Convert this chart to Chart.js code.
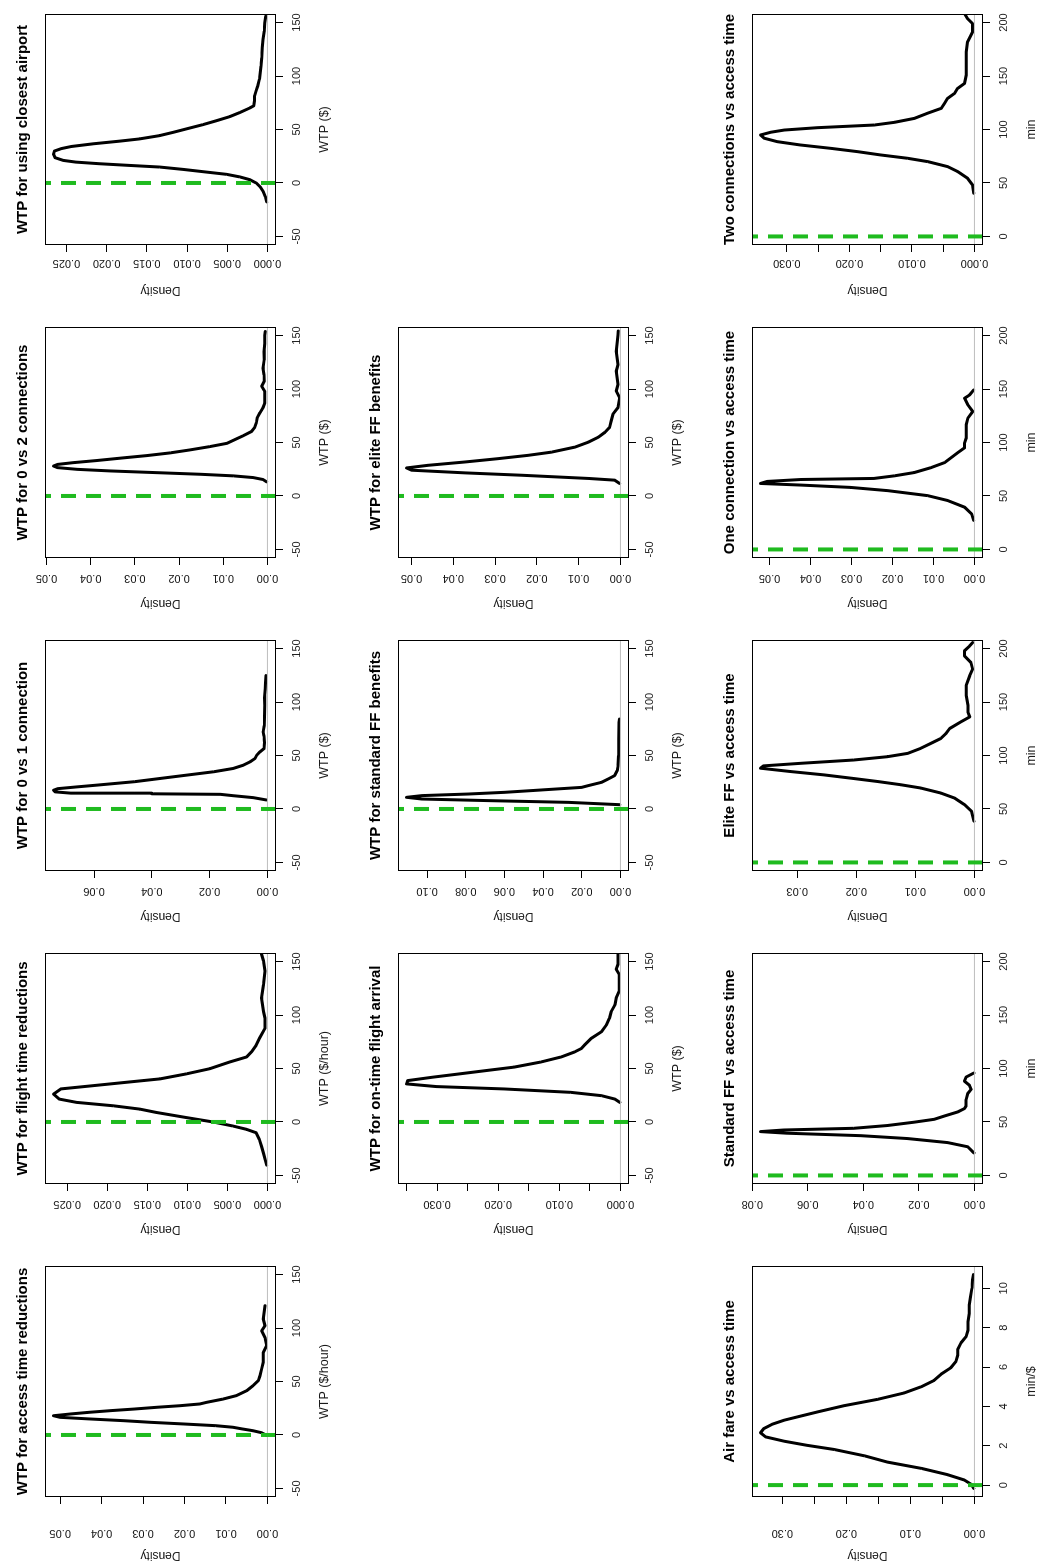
<!DOCTYPE html>
<html><head><meta charset="utf-8">
<script src="https://cdn.jsdelivr.net/npm/chart.js@4.4.1/dist/chart.umd.min.js"></script>
<style>
html,body{margin:0;padding:0;background:#fff;overflow:hidden;width:1045px;height:1564px;}
#fig{position:absolute;left:0;top:0;width:1564px;height:1045px;transform-origin:0 0;transform:translateY(1564px) rotate(-90deg);overflow:hidden;background:#fff;}
#fig canvas{position:absolute;}
</style></head><body><div id="fig"></div>
<script>
// ---------- titles ----------
const panelTitles = [
  "WTP for using closest airport", "WTP for 0 vs 2 connections", "WTP for 0 vs 1 connection",
  "WTP for flight time reductions", "WTP for access time reductions", "WTP for on-time flight arrival",
  "WTP for standard FF benefits", "WTP for elite FF benefits", "Two connections vs access time",
  "One connection vs access time", "Elite FF vs access time", "Standard FF vs access time",
  "Air fare vs access time"
];
const axisLabels = ["WTP ($)", "WTP ($/hour)", "min", "min/$", "Density"];

// ---------- x ranges and ticks ----------
const wtpLimits = [-50, 150];
const minLimits = [0, 200];
const wtpTicks = [-50, 0, 50, 100, 150];
const minTicks = [0, 50, 100, 150, 200];
const minPerDollarTicks = [0, 2, 4, 6, 8, 10];

// ---------- density ticks ----------
const dTicks025 = [0, 0.005, 0.010, 0.015, 0.020, 0.025];
const dLabels025 = ["0.000", "0.005", "0.010", "0.015", "0.020", "0.025"];
const dTicks05 = [0, 0.01, 0.02, 0.03, 0.04, 0.05];
const dLabels05 = ["0.00", "0.01", "0.02", "0.03", "0.04", "0.05"];
const dTicks06 = [0, 0.02, 0.04, 0.06];
const dLabels06 = ["0.00", "0.02", "0.04", "0.06"];
const dTicks035 = [0, 0.005, 0.010, 0.015, 0.020, 0.025, 0.030, 0.035];
const dLabels035 = ["0.000", "", "0.010", "", "0.020", "", "0.030", ""];
const dTicks10 = [0, 0.02, 0.04, 0.06, 0.08, 0.10];
const dLabels10 = ["0.00", "0.02", "0.04", "0.06", "0.08", "0.10"];
const dTicks030 = [0, 0.005, 0.010, 0.015, 0.020, 0.025, 0.030];
const dLabels030 = ["0.000", "", "0.010", "", "0.020", "", "0.030"];
const dTicks03 = [0, 0.01, 0.02, 0.03];
const dLabels03 = ["0.00", "0.01", "0.02", "0.03"];
const dTicks08 = [0, 0.02, 0.04, 0.06, 0.08];
const dLabels08 = ["0.00", "0.02", "0.04", "0.06", "0.08"];
const dTicks30 = [0, 0.05, 0.10, 0.15, 0.20, 0.25, 0.30];
const dLabels30 = ["0.00", "", "0.10", "", "0.20", "", "0.30"];

// ---------- series ----------
const closestAirportWTP = [-17.7,-13.0,-8.4,-3.7,0,3.1,5.6,8.1,10.2,12.7,14.9,16.4,18.0,19.5,21.1,23.6,26.7,29.8,32.2,34.1,36.6,39.1,41.2,44.3,47.4,50.5,54.6,58.3,62.0,66.0,70.1,72.2,76.9,81.5,86.2,90.8,97.0,103.2,109.4,117.2,126.5,134.2,142.0,149.7,155.9];
const closestAirportDensity = [0.0001,0.00025,0.0005,0.0009,0.0014,0.0022,0.0034,0.0051,0.0076,0.0105,0.0134,0.0171,0.0209,0.0238,0.0254,0.0264,0.0266,0.0265,0.0256,0.0244,0.0217,0.0184,0.0159,0.0134,0.0117,0.0101,0.0080,0.0063,0.0047,0.0034,0.0022,0.0017,0.0016,0.0016,0.0014,0.0012,0.0010,0.0009,0.0008,0.0007,0.00066,0.00054,0.0004,0.00033,0.0002];

const twoConnWTP = [13.2,15.4,17.2,18.8,20.3,21.8,23.4,24.9,26.5,28.0,29.5,31.1,33.2,35.4,37.8,40.3,43.1,46.2,49.2,52.6,56.3,60.3,64.0,68.6,73.2,77.8,82.5,87.1,93.2,97.8,102.5,107.1,113.2,119.4,127.1,134.8,142.5,150.2,153.8];
const twoConnDensity = [0.0002,0.0010,0.0032,0.0077,0.0152,0.0250,0.0355,0.0430,0.0475,0.0484,0.0475,0.0441,0.0385,0.0332,0.0272,0.0220,0.0175,0.0130,0.0092,0.0074,0.0055,0.0036,0.0029,0.0025,0.0023,0.0017,0.0010,0.0006,0.0006,0.0006,0.0013,0.00075,0.0008,0.0010,0.00075,0.0008,0.0006,0.0006,0.0005];

const oneConnWTP = [8.4,10.6,12.4,13.7,14.2,14.8,16.0,17.5,19.0,20.5,22.4,25.5,28.6,31.7,34.8,37.9,41.0,44.1,47.2,50.3,53.4,56.5,62.0,68.0,72.0,78.0,86.0,96.9,104.0,112.4,118.0,124.8];
const oneConnDensity = [0.0003,0.0049,0.0118,0.0163,0.0400,0.0680,0.0735,0.0740,0.0725,0.0665,0.0586,0.0460,0.0369,0.0278,0.0186,0.0118,0.0083,0.0060,0.0043,0.0037,0.0026,0.0012,0.0010,0.0012,0.0015,0.0011,0.0010,0.0009,0.0010,0.0008,0.0007,0.0005];

const flightTimeWTP = [-40.3,-29.3,-22.7,-16.4,-10.1,-6.9,-3.8,0,4.1,8.8,12.0,15.1,18.3,21.4,26.1,30.9,34.0,37.2,40.3,45.0,49.8,56.1,60.8,65.5,71.8,78.1,87.6,97.0,103.3,115.9,128.5,141.1,150.6,157.0];
const flightTimeDensity = [0.0001,0.0005,0.00075,0.0010,0.0014,0.0026,0.0043,0.0068,0.0101,0.0138,0.0159,0.0192,0.0238,0.0260,0.0267,0.0258,0.0217,0.0175,0.0134,0.0101,0.0072,0.0047,0.0026,0.0020,0.0014,0.0010,0.0003,0.0003,0.0005,0.00075,0.0005,0.0003,0.0005,0.00075];

const accessTimeWTP = [-0.6,2.2,4.0,5.6,7.2,8.7,10.3,11.8,13.4,15.0,16.5,18.0,19.6,21.2,22.7,24.3,25.9,27.4,29.0,30.5,33.6,36.8,41.4,46.1,50.8,55.5,61.7,68.0,77.3,83.5,91.3,97.5,102.2,108.4,120.9];
const accessTimeDensity = [0.0001,0.0015,0.0035,0.0060,0.0083,0.0125,0.0203,0.0280,0.0348,0.0430,0.0500,0.0516,0.0476,0.0430,0.0380,0.0320,0.0267,0.0210,0.0163,0.0147,0.0107,0.0075,0.0050,0.0035,0.0022,0.0018,0.0014,0.0010,0.0010,0.0002,0.0006,0.0014,0.0006,0.0010,0.0006];

const onTimeWTP = [18.3,21.4,24.6,27.7,30.9,33.1,35.6,38.7,41.9,45.0,48.2,51.3,56.1,60.8,65.5,68.7,71.8,78.1,84.4,90.7,97.0,103.3,109.6,115.9,122.2,128.5,138.0,142.7,147.4,157.0];
const onTimeDensity = [0.0001,0.0009,0.0031,0.0081,0.0191,0.0301,0.0350,0.0348,0.0307,0.0263,0.0218,0.0174,0.0130,0.0097,0.0075,0.0064,0.0059,0.0048,0.0031,0.0023,0.0018,0.0015,0.0009,0.0007,0.0002,0.0002,0.0002,0.0007,0.0004,0.0004];

const stdFFWTP = [4.0,6.2,7.8,9.3,10.9,12.5,14.0,15.6,17.8,20.2,21.8,24.9,28.0,31.2,35.8,40.5,50.0,65.4,81.0,84.1];
const stdFFDensity = [0.0003,0.0270,0.0680,0.1026,0.1106,0.1026,0.0785,0.0596,0.0407,0.0201,0.0167,0.0098,0.0064,0.0030,0.0017,0.0012,0.0010,0.0009,0.0007,0.0005];

const eliteFFWTP = [11.7,14.8,16.4,19.4,21.6,24.1,26.2,28.7,31.8,34.9,38.0,41.0,45.7,50.3,55.0,59.6,64.2,70.4,76.5,82.7,92.0,98.1,104.3,116.7,122.8,135.2,150.6,154.3];
const eliteFFDensity = [0.0002,0.0014,0.0077,0.0237,0.0372,0.0500,0.0512,0.0460,0.0372,0.0293,0.0221,0.0165,0.0109,0.0077,0.0053,0.0037,0.0026,0.0022,0.0018,0.0006,0.0002,0.0010,0.0006,0.0010,0.0006,0.0010,0.0006,0.0005];

const twoConnAccessMin = [40.4,48.2,54.4,60.7,65.3,70.0,73.1,76.2,79.3,82.4,85.5,88.6,91.8,94.9,97.4,99.5,101.7,104.2,106.7,110.4,115.2,119.8,124.4,129.1,133.7,138.4,143.0,150.9,157.1,163.3,172.6,182.0,191.3,199.1,203.7,208.4];
const twoConnAccessDensity = [0.0001,0.0003,0.0011,0.0027,0.0043,0.0075,0.0107,0.0150,0.0187,0.0230,0.0278,0.0315,0.0336,0.0342,0.0326,0.0304,0.0251,0.0160,0.0128,0.0096,0.0075,0.0053,0.0048,0.0043,0.0032,0.0027,0.0016,0.0013,0.0013,0.0013,0.0013,0.0011,0.0003,0.0003,0.0011,0.0016];

const oneConnAccessMin = [27.2,33.3,39.5,45.7,50.3,55.0,58.0,60.2,61.7,63.6,65.4,66.4,68.8,71.9,76.5,81.2,85.8,90.4,95.1,99.7,104.3,110.5,116.7,122.8,129.0,135.2,141.4,144.4,149.1];
const oneConnAccessDensity = [0.0002,0.0007,0.0024,0.0065,0.0114,0.0212,0.0302,0.0424,0.0522,0.0506,0.0424,0.0245,0.0196,0.0147,0.0106,0.0073,0.0057,0.0041,0.0024,0.0024,0.0020,0.0020,0.0020,0.0016,0.0004,0.0016,0.0024,0.0012,0.0002];

const eliteFFAccessMin = [38.6,47.9,54.1,60.3,64.9,69.6,72.7,75.7,78.8,81.9,85.0,88.1,90.3,92.7,95.8,98.9,102.0,106.7,111.3,115.9,120.6,125.2,131.4,136.1,140.7,146.8,156.1,165.4,174.6,180.8,187.0,193.2,197.8,202.5,205.6];
const eliteFFAccessDensity = [0.0001,0.0005,0.0017,0.0034,0.0057,0.0091,0.0125,0.0164,0.0209,0.0255,0.0311,0.0362,0.0357,0.0294,0.0204,0.0147,0.0113,0.0091,0.0074,0.0057,0.0048,0.0042,0.0023,0.0008,0.0011,0.0011,0.0014,0.0014,0.0008,0.0003,0.0006,0.0017,0.0017,0.0008,0.0003];

const stdFFAccessMin = [21.1,26.8,30.7,34.5,37.2,39.5,41.0,42.5,44.1,46.7,49.8,52.5,55.6,59.4,62.5,65.1,70.9,76.6,80.5,84.3,88.1,92.0,95.8];
const stdFFAccessDensity = [0.0002,0.0024,0.0096,0.0241,0.0410,0.0675,0.0770,0.0687,0.0434,0.0313,0.0217,0.0145,0.0108,0.0060,0.0036,0.0030,0.0030,0.0024,0.0012,0.0018,0.0036,0.0030,0.0002];

const airFareMinPerDollar = [-0.17,0.04,0.26,0.53,0.85,1.17,1.49,1.81,2.02,2.23,2.45,2.66,2.87,3.09,3.30,3.51,3.72,4.04,4.36,4.68,5.00,5.32,5.64,5.96,6.28,6.60,6.91,7.23,7.55,7.87,8.30,8.72,9.15,9.57,10.00,10.43,10.70];
const airFareDensity = [0.0010,0.005,0.016,0.042,0.083,0.136,0.172,0.219,0.261,0.297,0.326,0.334,0.329,0.316,0.297,0.271,0.245,0.203,0.151,0.110,0.083,0.063,0.052,0.037,0.029,0.026,0.026,0.021,0.013,0.010,0.010,0.008,0.008,0.006,0.004,0.003,0.0015];

// ---------- layout (original, unrotated orientation) ----------
const FONT = "'Liberation Sans', Arial, Helvetica, sans-serif";
Chart.defaults.font.family = FONT;
Chart.defaults.color = '#111';
const CELL_W = 313, CANVAS_H = 348;
const ROW_TOP = [0, 353, 707];
const LEFT_M = 67, RIGHT_M = 15, TOP_M = 45, BOTTOM_M = 72;
// distance of density tick-label centre / "Density" centre from the box, per column
const COL_LABEL_GAP = [36, 20, 20, 20, 18];
const COL_YTITLE_GAP = [58, 45, 45, 45, 45];
const GREEN = '#1fbb1f';

const panels = [
  {t:0, row:0, col:4, x:closestAirportWTP, d:closestAirportDensity, lim:wtpLimits, xt:wtpTicks, yt:dTicks025, yl:dLabels025, xlab:0},
  {t:1, row:0, col:3, x:twoConnWTP, d:twoConnDensity, lim:wtpLimits, xt:wtpTicks, yt:dTicks05, yl:dLabels05, xlab:0},
  {t:2, row:0, col:2, x:oneConnWTP, d:oneConnDensity, lim:wtpLimits, xt:wtpTicks, yt:dTicks06, yl:dLabels06, xlab:0},
  {t:3, row:0, col:1, x:flightTimeWTP, d:flightTimeDensity, lim:wtpLimits, xt:wtpTicks, yt:dTicks025, yl:dLabels025, xlab:1},
  {t:4, row:0, col:0, x:accessTimeWTP, d:accessTimeDensity, lim:wtpLimits, xt:wtpTicks, yt:dTicks05, yl:dLabels05, xlab:1},
  {t:5, row:1, col:1, x:onTimeWTP, d:onTimeDensity, lim:wtpLimits, xt:wtpTicks, yt:dTicks035, yl:dLabels035, xlab:0},
  {t:6, row:1, col:2, x:stdFFWTP, d:stdFFDensity, lim:wtpLimits, xt:wtpTicks, yt:dTicks10, yl:dLabels10, xlab:0},
  {t:7, row:1, col:3, x:eliteFFWTP, d:eliteFFDensity, lim:wtpLimits, xt:wtpTicks, yt:dTicks05, yl:dLabels05, xlab:0},
  {t:8, row:2, col:4, x:twoConnAccessMin, d:twoConnAccessDensity, lim:minLimits, xt:minTicks, yt:dTicks030, yl:dLabels030, xlab:2},
  {t:9, row:2, col:3, x:oneConnAccessMin, d:oneConnAccessDensity, lim:minLimits, xt:minTicks, yt:dTicks05, yl:dLabels05, xlab:2},
  {t:10, row:2, col:2, x:eliteFFAccessMin, d:eliteFFAccessDensity, lim:minLimits, xt:minTicks, yt:dTicks03, yl:dLabels03, xlab:2},
  {t:11, row:2, col:1, x:stdFFAccessMin, d:stdFFAccessDensity, lim:minLimits, xt:minTicks, yt:dTicks08, yl:dLabels08, xlab:2},
  {t:12, row:2, col:0, x:airFareMinPerDollar, d:airFareDensity, lim:null, xt:minPerDollarTicks, yt:dTicks30, yl:dLabels30, xlab:3}
];

const boxPlugin = {
  id: 'rbox',
  afterDraw(chart) {
    const {ctx, chartArea: a} = chart;
    ctx.save();
    ctx.strokeStyle = '#000';
    ctx.lineWidth = 1;
    ctx.strokeRect(Math.round(a.left) + 0.5, Math.round(a.top) + 0.5,
                   Math.round(a.right - a.left) - 1, Math.round(a.bottom - a.top) - 1);
    ctx.restore();
  }
};

const measureCtx = document.createElement('canvas').getContext('2d');
measureCtx.font = "11px " + FONT;

const fig = document.getElementById('fig');

panels.forEach(p => {
  const cv = document.createElement('canvas');
  cv.width = CELL_W; cv.height = CANVAS_H;
  cv.style.left = (p.col * CELL_W) + 'px';
  cv.style.top = ROW_TOP[p.row] + 'px';
  cv.style.width = CELL_W + 'px';
  cv.style.height = CANVAS_H + 'px';
  fig.appendChild(cv);

  const dmax = Math.max(...p.d);
  const ymin = -0.04 * dmax, ymax = 1.04 * dmax;
  const lo = p.lim ? p.lim[0] : Math.min(...p.x);
  const hi = p.lim ? p.lim[1] : Math.max(...p.x);
  const ext = (hi - lo) * 0.04;
  const xmin = lo - ext, xmax = hi + ext;

  const widest = Math.max(...p.yl.map(s => measureCtx.measureText(s).width));
  const yPad = COL_LABEL_GAP[p.col] - 7 - widest / 2;
  const yTitlePad = Math.max(0, LEFT_M - COL_YTITLE_GAP[p.col] - 7.2);

  const n = Math.min(p.x.length, p.d.length);
  const curve = [];
  for (let i = 0; i < n; i++) curve.push({x: p.x[i], y: p.d[i]});

  new Chart(cv, {
    type: 'scatter',
    data: {
      datasets: [
        {data: [{x: 0, y: ymin}, {x: 0, y: ymax}], showLine: true, borderColor: GREEN,
         borderWidth: 4, borderDash: [15, 10], pointRadius: 0, fill: false},
        {data: [{x: xmin, y: 0}, {x: xmax, y: 0}], showLine: true, borderColor: '#bebebe',
         borderWidth: 1, pointRadius: 0, fill: false},
        {data: curve, showLine: true, borderColor: '#000', borderWidth: 3, pointRadius: 0,
         tension: 0, fill: false, borderJoinStyle: 'round', borderCapStyle: 'round'}
      ]
    },
    options: {
      responsive: false,
      animation: false,
      events: [],
      layout: {padding: {left: 0, right: RIGHT_M, top: 0, bottom: 0}},
      plugins: {
        legend: {display: false},
        tooltip: {enabled: false},
        title: {display: true, text: panelTitles[p.t], fullSize: false, color: '#000',
                font: {size: 15, weight: 'bold', family: FONT, lineHeight: 1.2},
                padding: {top: 14, bottom: 13}}
      },
      scales: {
        x: {
          type: 'linear', position: 'bottom', min: xmin, max: xmax, bounds: 'data',
          afterBuildTicks: s => { s.ticks = p.xt.map(v => ({value: v})); },
          afterFit: s => { s.height = BOTTOM_M; },
          ticks: {autoSkip: false, minRotation: 0, maxRotation: 0, padding: 7,
                  font: {size: 11}, color: '#1a1a1a', callback: v => String(v)},
          grid: {display: true, drawOnChartArea: false, drawTicks: true, tickLength: 7,
                 color: '#000', lineWidth: 1},
          border: {display: false},
          title: {display: true, text: axisLabels[p.xlab], color: '#1a1a1a',
                  font: {size: 12.5, lineHeight: 1.2}, padding: {top: 0, bottom: 16}}
        },
        y: {
          type: 'linear', position: 'left', min: ymin, max: ymax, bounds: 'data',
          afterBuildTicks: s => { s.ticks = p.yt.map(v => ({value: v})); },
          afterFit: s => { s.width = LEFT_M; },
          ticks: {autoSkip: false, minRotation: 90, maxRotation: 90, crossAlign: 'center',
                  padding: yPad, font: {size: 11}, color: '#1a1a1a',
                  callback: (v, i) => p.yl[i]},
          grid: {display: true, drawOnChartArea: false, drawTicks: true, tickLength: 7,
                 color: '#000', lineWidth: 1},
          border: {display: false},
          title: {display: true, text: axisLabels[4], color: '#1a1a1a',
                  font: {size: 12, lineHeight: 1.2}, padding: {top: yTitlePad, bottom: 0}}
        }
      }
    },
    plugins: [boxPlugin]
  });
});
</script></body></html>
